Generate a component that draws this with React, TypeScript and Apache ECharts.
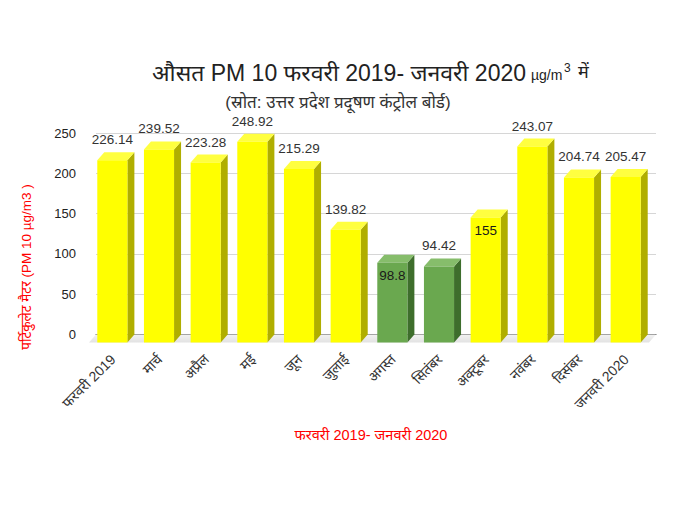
import React, { useEffect, useRef } from "react";
import * as echarts from "echarts";

const categories = [
  "फरवरी 2019", "मार्च", "अप्रैल", "मई", "जून", "जुलाई",
  "अगस्त", "सितंबर", "अक्टूबर", "नवंबर", "दिसंबर", "जनवरी 2020",
];
const values = [226.14, 239.52, 223.28, 248.92, 215.29, 139.82, 98.8, 94.42, 155, 243.07, 204.74, 205.47];
const yTicks = [0, 50, 100, 150, 200, 250];
const insideLabelIdx = [6, 8];
const greenBelow = 100;

const titleMain = "औसत PM 10 फरवरी 2019- जनवरी 2020";
const titleUnit = "µg/m";
const titleSup = "3";
const titleTail = "में";
const subtitle = "(स्रोत: उत्तर प्रदेश प्रदूषण कंट्रोल बोर्ड)";
const yName = "पर्टिकुलेट मैटर (PM 10 µg/m3 )";
const xName = "फरवरी 2019- जनवरी 2020";

const FONT = "'Liberation Sans', Arial, 'Noto Sans', sans-serif";

export default function App() {
  const ref = useRef<HTMLDivElement>(null);
  useEffect(() => {
    const chart = echarts.init(ref.current!, null, { renderer: "svg" });
    const DX = 7, DY = 8;
    const palette = {
      yellow: { front: "#ffff00", side: "#b0ae00", top: "#ffff40" },
      green: { front: "#6aa84f", side: "#3e6e2c", top: "#86bd6b" },
    };
    chart.setOption({
      animation: false,
      backgroundColor: "#ffffff",
      textStyle: { fontFamily: FONT },
      grid: { left: 96, right: 24, top: 133, bottom: 175.5 },
      xAxis: {
        type: "category",
        data: categories,
        axisTick: { show: false },
        axisLine: { show: true, lineStyle: { color: "#555", width: 1 } },
        axisLabel: {
          rotate: 45, margin: 16, fontSize: 14, color: "#333", fontFamily: FONT,
          interval: 0, padding: [0, 9, 0, 0],
        },
      },
      yAxis: {
        type: "value",
        min: yTicks[0],
        max: yTicks[yTicks.length - 1],
        interval: 50,
        axisLine: { show: false },
        axisTick: { show: false },
        splitLine: { lineStyle: { color: "#d6d6d6", width: 1 } },
        axisLabel: { margin: 20, fontSize: 13, color: "#222", fontFamily: FONT },
      },
      graphic: [
        {
          type: "text", right: 680 - 526, top: 61,
          style: { text: titleMain, font: `23px ${FONT}`, fill: "#222" },
        },
        {
          type: "text", left: 531, top: 68,
          style: { text: titleUnit, font: `14px ${FONT}`, fill: "#222" },
        },
        {
          type: "text", left: 564, top: 62,
          style: { text: titleSup, font: `12px ${FONT}`, fill: "#222" },
        },
        {
          type: "text", left: 578, top: 63,
          style: { text: titleTail, font: `18px ${FONT}`, fill: "#222" },
        },
        {
          type: "text", x: 338, y: 102,
          style: { text: subtitle, font: `17px ${FONT}`, fill: "#333", align: "center", verticalAlign: "middle" },
        },
        {
          type: "text", x: 26, y: 267, rotation: Math.PI / 2,
          style: { text: yName, font: `13.5px ${FONT}`, fill: "#ff0000", align: "center", verticalAlign: "middle" },
        },
        {
          type: "text", x: 371, y: 435,
          style: { text: xName, font: `14.5px ${FONT}`, fill: "#ff0000", align: "center", verticalAlign: "middle" },
        },
      ],
      series: [
        {
          type: "custom",
          z: 1,
          silent: true,
          data: [[0]],
          renderItem: (params: any, api: any) => {
            const band = api.size([1, 0])[0];
            const first = api.coord([0, 0]);
            const last = api.coord([categories.length - 1, 0]);
            const l = first[0] - band / 2;
            const r = last[0] + band / 2;
            const y0 = first[1];
            return {
              type: "polygon",
              shape: { points: [[l, y0], [r, y0], [r - DX, y0 + DY], [l - DX, y0 + DY]] },
              style: {
                fill: new echarts.graphic.LinearGradient(0, 0, 0, 1, [
                  { offset: 0, color: "#f2f2f2" },
                  { offset: 1, color: "#e2e2e2" },
                ]),
              },
            };
          },
        },
        {
          type: "custom",
          z: 3,
          data: values.map((v, i) => [i, v]),
          encode: { x: 0, y: 1 },
          renderItem: (params: any, api: any) => {
            const i = api.value(0);
            const v = api.value(1);
            const top = api.coord([i, v]);
            const base = api.coord([i, 0]);
            const band = api.size([1, 0])[0];
            const w = band * 0.645;
            const fx = top[0] - DX - w / 2;
            const fTop = top[1] + DY;
            const fBot = base[1] + DY;
            const c = v < greenBelow ? palette.green : palette.yellow;
            const inside = insideLabelIdx.indexOf(params.dataIndex) >= 0;
            return {
              type: "group",
              children: [
                {
                  type: "polygon",
                  shape: { points: [[fx + w, fTop], [fx + w + DX, fTop - DY], [fx + w + DX, fBot - DY], [fx + w, fBot]] },
                  style: { fill: c.side },
                },
                {
                  type: "polygon",
                  shape: { points: [[fx, fTop], [fx + DX, fTop - DY], [fx + w + DX, fTop - DY], [fx + w, fTop]] },
                  style: { fill: c.top },
                },
                {
                  type: "rect",
                  shape: { x: fx, y: fTop, width: w, height: fBot - fTop },
                  style: { fill: c.front },
                },
                {
                  type: "text",
                  x: fx + w / 2,
                  y: inside ? fTop + 13 : top[1] - 12.5,
                  style: {
                    text: String(v),
                    font: `13.5px ${FONT}`,
                    fill: inside ? "#1a1a1a" : "#333",
                    align: "center",
                    verticalAlign: "middle",
                  },
                },
              ],
            };
          },
        },
      ],
    });
    return () => chart.dispose();
  }, []);
  return <div ref={ref} style={{ position: "fixed", left: 0, top: 0, width: 680, height: 510 }} />;
}
